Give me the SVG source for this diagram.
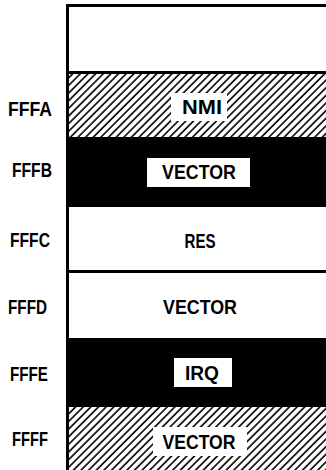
<svg xmlns="http://www.w3.org/2000/svg" width="326" height="470" viewBox="0 0 326 470">
<style>
.addr{font-family:"Liberation Sans",Arial,sans-serif;font-weight:bold;font-size:19.5px;fill:#000}
.lbl{font-family:"Liberation Sans",Arial,sans-serif;font-weight:bold;font-size:20px;fill:#000;text-anchor:middle}
.blk{fill:#000}
.wht{fill:#fff}
.hat{fill:url(#hatch)}
</style>
<defs>
<pattern id="hatch" patternUnits="userSpaceOnUse" width="5.4" height="5.4" patternTransform="rotate(45)">
<rect width="5.4" height="5.4" fill="#fff"/>
<line x1="1" y1="0" x2="1" y2="5.4" stroke="#000" stroke-width="1.6"/>
</pattern>
</defs>
<rect width="326" height="470" fill="#fff"/>
<g id="memory-map">
<g id="row-blank">
<rect x="67" y="4" width="270" height="70" fill="#fff" stroke="none"/>
</g>
<g id="row-fffa">
<rect class="hat" x="67" y="74" width="270" height="63"/>
<rect class="wht" x="171" y="93" width="56" height="28"/>
<text class="lbl" x="202" y="114" textLength="40" lengthAdjust="spacingAndGlyphs">NMI</text>
</g>
<g id="row-fffb">
<rect class="blk" x="67" y="137" width="270" height="70"/>
<rect class="wht" x="147" y="158" width="103" height="29"/>
<text class="lbl" x="199" y="179" textLength="74" lengthAdjust="spacingAndGlyphs">VECTOR</text>
</g>
<g id="row-fffc">
<rect class="wht" x="67" y="207" width="270" height="64"/>
<text class="lbl" x="200" y="248" textLength="31" lengthAdjust="spacingAndGlyphs">RES</text>
</g>
<g id="row-fffd">
<rect class="wht" x="67" y="273" width="270" height="65"/>
<text class="lbl" x="200" y="314" textLength="74" lengthAdjust="spacingAndGlyphs">VECTOR</text>
</g>
<g id="row-fffe">
<rect class="blk" x="67" y="338" width="270" height="69"/>
<rect class="wht" x="174" y="358" width="58" height="29"/>
<text class="lbl" x="202" y="380" textLength="34" lengthAdjust="spacingAndGlyphs">IRQ</text>
</g>
<g id="row-ffff">
<rect class="hat" x="67" y="407" width="270" height="63"/>
<rect class="wht" x="153" y="427" width="94" height="29"/>
<text class="lbl" x="199" y="449" textLength="73" lengthAdjust="spacingAndGlyphs">VECTOR</text>
</g>
</g>
<g id="borders" stroke="#000" stroke-width="3" fill="none">
<line x1="67.5" y1="4" x2="67.5" y2="470"/>
<line x1="66" y1="5.5" x2="326" y2="5.5"/>
<line x1="66" y1="72.5" x2="326" y2="72.5"/>
<line x1="66" y1="271.5" x2="326" y2="271.5"/>
</g>
<g id="addresses">
<text class="addr" x="8" y="116" textLength="44" lengthAdjust="spacingAndGlyphs">FFFA</text>
<text class="addr" x="12" y="177" textLength="40" lengthAdjust="spacingAndGlyphs">FFFB</text>
<text class="addr" x="10" y="247" textLength="40" lengthAdjust="spacingAndGlyphs">FFFC</text>
<text class="addr" x="8" y="314" textLength="39" lengthAdjust="spacingAndGlyphs">FFFD</text>
<text class="addr" x="10" y="381" textLength="38" lengthAdjust="spacingAndGlyphs">FFFE</text>
<text class="addr" x="12" y="446" textLength="36" lengthAdjust="spacingAndGlyphs">FFFF</text>
</g>
</svg>
